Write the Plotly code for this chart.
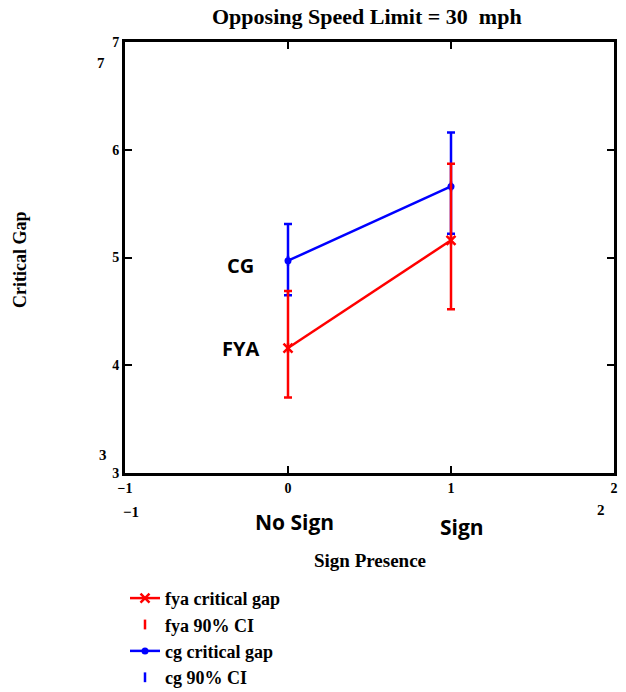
import plotly.graph_objects as go

# ---- data ----
sign_x = [0, 1]
sign_names = ["No Sign", "Sign"]
fya_gap = [4.16, 5.16]
fya_ci_low = [3.70, 4.52]
fya_ci_high = [4.69, 5.87]
cg_gap = [4.97, 5.66]
cg_ci_low = [4.65, 5.22]
cg_ci_high = [5.31, 6.16]
x_ticks = [-1, 0, 1, 2]
y_ticks = [3, 4, 5, 6, 7]

RED = "#ff0000"
BLUE = "#0000ff"
SERIF = "Liberation Serif"
SANS = "Open Sans"

fig = go.Figure()

def ci_trace(name, y, lo, hi, color, rank):
    return go.Scatter(
        x=sign_x, y=y, name=name, mode="markers", legendrank=rank,
        marker=dict(symbol="line-ns-open", size=7, color=color,
                    line=dict(color=color, width=2.5)),
        error_y=dict(type="data", symmetric=False,
                     array=[h - v for h, v in zip(hi, y)],
                     arrayminus=[v - l for v, l in zip(y, lo)],
                     color=color, thickness=2.5, width=4),
        cliponaxis=False,
    )

fig.add_trace(ci_trace("cg 90% CI", cg_gap, cg_ci_low, cg_ci_high, BLUE, 4))
fig.add_trace(go.Scatter(x=sign_x, y=cg_gap, name="cg critical gap", mode="lines+markers",
                         legendrank=3, line=dict(color=BLUE, width=2.5),
                         marker=dict(symbol="circle", size=7, color=BLUE)))
fig.add_trace(ci_trace("fya 90% CI", fya_gap, fya_ci_low, fya_ci_high, RED, 2))
fig.add_trace(go.Scatter(x=sign_x, y=fya_gap, name="fya critical gap", mode="lines+markers",
                         legendrank=1, line=dict(color=RED, width=2.5),
                         marker=dict(symbol="x-thin-open", size=9, color=RED,
                                     line=dict(color=RED, width=2.5))))

axis_common = dict(showline=True, linecolor="black", linewidth=3, mirror="ticks",
                   ticks="inside", ticklen=7, tickwidth=2, tickcolor="black",
                   showgrid=False, zeroline=False,
                   tickfont=dict(family=SERIF, size=14, color="black", weight="bold"))
fig.update_xaxes(range=[-1, 2], tickvals=x_ticks, **axis_common)
fig.update_yaxes(range=[3, 7], tickvals=y_ticks, **axis_common)

def ann(text, x, y, size, family=SERIF, angle=0):
    fig.add_annotation(text="<b>" + text + "</b>", x=x, y=y, xref="paper", yref="paper",
                       showarrow=False, textangle=angle,
                       font=dict(family=family, size=size, color="black"),
                       xanchor="center", yanchor="middle")

ann("Opposing Speed Limit = 30\u00a0\u00a0mph", 0.495, 1.060, 22)
ann("Critical Gap", -0.2147, 0.494, 18, angle=-90)
ann("Sign Presence", 0.501, -0.2019, 19)
ann(sign_names[0], 0.3476, -0.1137, 21, family=SANS)
ann(sign_names[1], 0.689, -0.1253, 21, family=SANS)
ann("CG", 0.2352, 0.4803, 20, family=SANS)
ann("FYA", 0.2352, 0.29, 20, family=SANS)
ann(str(y_ticks[-1]), -0.049, 0.951, 15)
ann(str(y_ticks[0]), -0.045, 0.0418, 15)
ann("\u2212" + str(abs(x_ticks[0])), 0.0123, -0.0905, 15)
ann(str(x_ticks[-1]), 0.973, -0.0858, 15)

fig.update_layout(
    width=626, height=692,
    margin=dict(l=125, r=12, t=42, b=219, autoexpand=False),
    paper_bgcolor="white", plot_bgcolor="white",
    showlegend=True,
    legend=dict(x=0, y=-0.248, xanchor="left", yanchor="top",
                font=dict(family=SERIF, size=18, color="black", weight="bold"),
                bgcolor="rgba(0,0,0,0)", tracegroupgap=0),
)

fig.write_html("out.html")
